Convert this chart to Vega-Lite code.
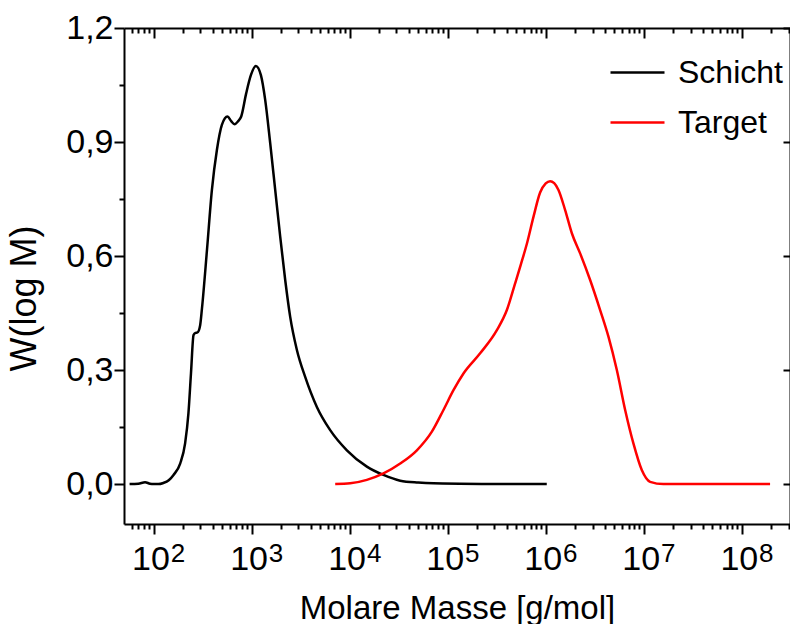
{
  "$schema": "https://vega.github.io/schema/vega-lite/v6.json",
  "width": 666,
  "height": 496,
  "autosize": "none",
  "padding": {"left": 124, "top": 28, "right": 0, "bottom": 100},
  "config": {
    "view": {"stroke": null},
    "font": "Liberation Sans",
    "axis": {"domainColor": "black", "domainWidth": 2, "tickColor": "black", "tickWidth": 2, "grid": false, "labelColor": "black", "titleColor": "black", "labelFont": "Liberation Sans", "titleFont": "Liberation Sans", "titleFontWeight": "normal"}
  },
  "data": {"values": [
    {"series": "Schicht", "M": 57, "W": 0},
    {"series": "Schicht", "M": 70, "W": 0.001},
    {"series": "Schicht", "M": 82, "W": 0.005},
    {"series": "Schicht", "M": 92, "W": 0.001},
    {"series": "Schicht", "M": 100, "W": 0},
    {"series": "Schicht", "M": 112, "W": 0.0},
    {"series": "Schicht", "M": 126, "W": 0.003},
    {"series": "Schicht", "M": 143, "W": 0.01},
    {"series": "Schicht", "M": 160, "W": 0.024},
    {"series": "Schicht", "M": 187, "W": 0.054},
    {"series": "Schicht", "M": 210, "W": 0.107},
    {"series": "Schicht", "M": 227, "W": 0.186},
    {"series": "Schicht", "M": 241, "W": 0.291},
    {"series": "Schicht", "M": 256, "W": 0.392},
    {"series": "Schicht", "M": 268, "W": 0.398},
    {"series": "Schicht", "M": 281, "W": 0.399},
    {"series": "Schicht", "M": 299, "W": 0.418},
    {"series": "Schicht", "M": 312, "W": 0.462},
    {"series": "Schicht", "M": 351, "W": 0.616},
    {"series": "Schicht", "M": 394, "W": 0.774},
    {"series": "Schicht", "M": 443, "W": 0.879},
    {"series": "Schicht", "M": 498, "W": 0.945},
    {"series": "Schicht", "M": 568, "W": 0.967},
    {"series": "Schicht", "M": 620, "W": 0.955},
    {"series": "Schicht", "M": 670, "W": 0.947},
    {"series": "Schicht", "M": 730, "W": 0.955},
    {"series": "Schicht", "M": 784, "W": 0.967},
    {"series": "Schicht", "M": 881, "W": 1.028},
    {"series": "Schicht", "M": 984, "W": 1.076},
    {"series": "Schicht", "M": 1107, "W": 1.1},
    {"series": "Schicht", "M": 1245, "W": 1.076},
    {"series": "Schicht", "M": 1377, "W": 1.011},
    {"series": "Schicht", "M": 1549, "W": 0.897},
    {"series": "Schicht", "M": 1742, "W": 0.774},
    {"series": "Schicht", "M": 1959, "W": 0.651},
    {"series": "Schicht", "M": 2203, "W": 0.537},
    {"series": "Schicht", "M": 2477, "W": 0.44},
    {"series": "Schicht", "M": 2899, "W": 0.353},
    {"series": "Schicht", "M": 3522, "W": 0.282},
    {"series": "Schicht", "M": 4634, "W": 0.203},
    {"series": "Schicht", "M": 6336, "W": 0.142},
    {"series": "Schicht", "M": 9379, "W": 0.089},
    {"series": "Schicht", "M": 14990, "W": 0.046},
    {"series": "Schicht", "M": 22130, "W": 0.024},
    {"series": "Schicht", "M": 32810, "W": 0.009},
    {"series": "Schicht", "M": 50000, "W": 0.004},
    {"series": "Schicht", "M": 71620, "W": 0.002},
    {"series": "Schicht", "M": 231700, "W": 0.0005},
    {"series": "Schicht", "M": 1025000, "W": 0},
    {"series": "Target", "M": 7129, "W": 0},
    {"series": "Target", "M": 10140, "W": 0.002},
    {"series": "Target", "M": 14990, "W": 0.011},
    {"series": "Target", "M": 22130, "W": 0.028},
    {"series": "Target", "M": 32810, "W": 0.054},
    {"series": "Target", "M": 48530, "W": 0.089},
    {"series": "Target", "M": 69010, "W": 0.138},
    {"series": "Target", "M": 90570, "W": 0.195},
    {"series": "Target", "M": 114600, "W": 0.247},
    {"series": "Target", "M": 144900, "W": 0.291},
    {"series": "Target", "M": 214400, "W": 0.344},
    {"series": "Target", "M": 317500, "W": 0.405},
    {"series": "Target", "M": 401500, "W": 0.458},
    {"series": "Target", "M": 487500, "W": 0.528},
    {"series": "Target", "M": 561000, "W": 0.58},
    {"series": "Target", "M": 646500, "W": 0.635},
    {"series": "Target", "M": 749900, "W": 0.703},
    {"series": "Target", "M": 877000, "W": 0.767},
    {"series": "Target", "M": 1000000, "W": 0.791},
    {"series": "Target", "M": 1109000, "W": 0.797},
    {"series": "Target", "M": 1220000, "W": 0.792},
    {"series": "Target", "M": 1349000, "W": 0.774},
    {"series": "Target", "M": 1578000, "W": 0.721},
    {"series": "Target", "M": 1847000, "W": 0.66},
    {"series": "Target", "M": 2244000, "W": 0.607},
    {"series": "Target", "M": 2838000, "W": 0.537},
    {"series": "Target", "M": 3589000, "W": 0.458},
    {"series": "Target", "M": 4363000, "W": 0.388},
    {"series": "Target", "M": 5312000, "W": 0.3},
    {"series": "Target", "M": 6458000, "W": 0.195},
    {"series": "Target", "M": 7839000, "W": 0.107},
    {"series": "Target", "M": 9543000, "W": 0.037},
    {"series": "Target", "M": 11610000, "W": 0.006},
    {"series": "Target", "M": 15850000, "W": 0},
    {"series": "Target", "M": 194100000, "W": 0}
  ]},
  "layer": [
    {
      "mark": {"type": "line", "interpolate": "monotone", "strokeWidth": 2.5},
      "encoding": {
        "x": {"field": "M", "type": "quantitative",
          "scale": {"type": "log", "domain": [50, 310000000], "nice": false},
          "axis": {"orient": "bottom",
            "values": [60,70,80,90,100,200,300,400,500,600,700,800,900,1000,2000,3000,4000,5000,6000,7000,8000,9000,10000,20000,30000,40000,50000,60000,70000,80000,90000,100000,200000,300000,400000,500000,600000,700000,800000,900000,1000000,2000000,3000000,4000000,5000000,6000000,7000000,8000000,9000000,10000000,20000000,30000000,40000000,50000000,60000000,70000000,80000000,90000000,100000000,200000000,300000000],
            "labelExpr": "indexof([100,1000,10000,100000,1000000,10000000,100000000], datum.value) >= 0 ? '10' : ''",
            "tickSize": {"condition": {"test": "indexof([100,1000,10000,100000,1000000,10000000,100000000], datum.value) >= 0", "value": 10}, "value": 5},
            "labelFontSize": 34, "labelPadding": 8, "labelOffset": -3, "labelFlush": false, "labelOverlap": false, "labelBound": false,
            "title": "Molare Masse [g/mol]", "titleFontSize": 33, "titlePadding": 16}},
        "y": {"field": "W", "type": "quantitative",
          "scale": {"domain": [-0.105, 1.2], "nice": false, "zero": false},
          "axis": {"orient": "left",
            "values": [0, 0.15, 0.3, 0.45, 0.6, 0.75, 0.9, 1.05, 1.2],
            "labelExpr": "indexof([0, 0.3, 0.6, 0.9, 1.2], datum.value) >= 0 ? replace(format(datum.value, '.1f'), '.', ',') : ''",
            "tickSize": {"condition": {"test": "indexof([0, 0.3, 0.6, 0.9, 1.2], datum.value) >= 0", "value": 10}, "value": 5},
            "labelFontSize": 34, "labelPadding": 1, "labelFlush": false, "labelOverlap": false, "labelBound": false,
            "title": "W(log M)", "titleFontSize": 36, "titleX": -100, "titleY": 270, "titleAngle": -90, "titleAlign": "center", "titleBaseline": "middle"}},
        "color": {"field": "series", "type": "nominal",
          "scale": {"domain": ["Schicht", "Target"], "range": ["#000000", "#ff0000"]},
          "legend": {"title": null, "orient": "none", "legendX": 485, "legendY": 16, "symbolType": "stroke", "symbolSize": 2916, "symbolStrokeWidth": 2.5, "labelFontSize": 32, "labelFont": "Liberation Sans", "labelColor": "black", "labelOffset": 12, "rowPadding": 5, "padding": 0}}
      }
    },
    {
      "mark": {"type": "line", "opacity": 0},
      "encoding": {
        "x": {"field": "M", "type": "quantitative",
          "axis": {"orient": "top",
            "values": [60,70,80,90,100,200,300,400,500,600,700,800,900,1000,2000,3000,4000,5000,6000,7000,8000,9000,10000,20000,30000,40000,50000,60000,70000,80000,90000,100000,200000,300000,400000,500000,600000,700000,800000,900000,1000000,2000000,3000000,4000000,5000000,6000000,7000000,8000000,9000000,10000000,20000000,30000000,40000000,50000000,60000000,70000000,80000000,90000000,100000000,200000000,300000000],
            "labels": false, "title": null,
            "tickSize": {"condition": {"test": "indexof([100,1000,10000,100000,1000000,10000000,100000000], datum.value) >= 0", "value": -10}, "value": -5}}},
        "y": {"field": "W", "type": "quantitative",
          "axis": {"orient": "right", "values": [0, 0.3, 0.6, 0.9, 1.2], "labels": false, "title": null, "tickSize": -7}},
        "detail": {"field": "series"}
      }
    },
    {
      "mark": {"type": "line", "opacity": 0},
      "encoding": {
        "x": {"field": "M", "type": "quantitative",
          "axis": {"orient": "bottom",
            "values": [100,1000,10000,100000,1000000,10000000,100000000],
            "labelExpr": "datum.value == 100 ? '2' : datum.value == 1000 ? '3' : datum.value == 10000 ? '4' : datum.value == 100000 ? '5' : datum.value == 1000000 ? '6' : datum.value == 10000000 ? '7' : '8'",
            "domain": false, "ticks": false, "tickSize": 0, "title": null,
            "labelFontSize": 26, "labelPadding": 16, "labelOffset": 24, "labelFlush": false, "labelOverlap": false, "labelBound": false}},
        "y": {"field": "W", "type": "quantitative", "axis": null},
        "detail": {"field": "series"}
      }
    }
  ],
  "resolve": {"axis": {"x": "independent", "y": "independent"}}
}
